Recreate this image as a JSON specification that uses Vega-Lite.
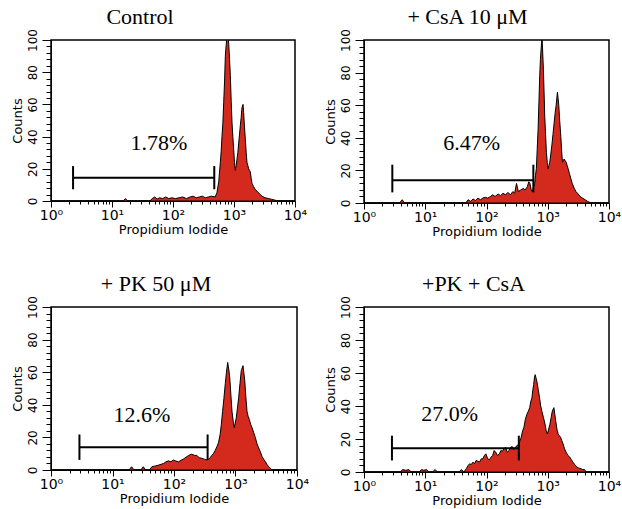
{
  "$schema": "https://vega.github.io/schema/vega-lite/v6.json",
  "padding": {"left": 10, "top": 4, "right": 1, "bottom": 2},
  "background": "white",
  "datasets": {
    "control": [
      {"pi":1,"count":0},{"pi":15.1,"count":0},{"pi":16.6,"count":1.5},{"pi":18.2,"count":0},{"pi":41.7,"count":0},{"pi":45.7,"count":1.5},{"pi":50.1,"count":2.5},{"pi":55,"count":1.2},{"pi":60.3,"count":2},{"pi":67.6,"count":1.5},{"pi":75.9,"count":2.5},{"pi":85.1,"count":1.5},{"pi":95.5,"count":2},{"pi":109.6,"count":1.5},{"pi":125.9,"count":2},{"pi":144.5,"count":2.5},{"pi":166,"count":1.5},{"pi":190.5,"count":2.5},{"pi":213.8,"count":3},{"pi":239.9,"count":2},{"pi":269.2,"count":2.5},{"pi":302,"count":3},{"pi":338.8,"count":2},{"pi":380.2,"count":2.5},{"pi":426.6,"count":3},{"pi":489.8,"count":2.5},{"pi":524.8,"count":5},{"pi":562.3,"count":12},{"pi":597,"count":24},{"pi":616.6,"count":31},{"pi":635.3,"count":40},{"pi":656.1,"count":48},{"pi":677.6,"count":61},{"pi":699.8,"count":74},{"pi":721.1,"count":90},{"pi":744.7,"count":97},{"pi":767.4,"count":102},{"pi":794.3,"count":102},{"pi":818.5,"count":98},{"pi":845.3,"count":88},{"pi":871,"count":78},{"pi":899.5,"count":62},{"pi":926.8,"count":49},{"pi":957.2,"count":40},{"pi":988.6,"count":32},{"pi":1018.6,"count":24},{"pi":1051.9,"count":19},{"pi":1083.9,"count":22},{"pi":1119.4,"count":26},{"pi":1156,"count":30},{"pi":1193.9,"count":36},{"pi":1230,"count":41},{"pi":1270.6,"count":47},{"pi":1312.2,"count":52},{"pi":1352.1,"count":58},{"pi":1406,"count":60},{"pi":1438.5,"count":55},{"pi":1485.9,"count":46},{"pi":1534.6,"count":38},{"pi":1584.9,"count":30},{"pi":1633.1,"count":24},{"pi":1686.5,"count":22},{"pi":1741.8,"count":20},{"pi":1798.9,"count":19},{"pi":1853.5,"count":18},{"pi":1914.3,"count":14},{"pi":1972.4,"count":11},{"pi":2089.3,"count":9},{"pi":2238.7,"count":7},{"pi":2398.8,"count":6},{"pi":2535.1,"count":5},{"pi":2691.5,"count":4},{"pi":2877.5,"count":3},{"pi":3235.9,"count":2},{"pi":3706.8,"count":1.5},{"pi":4168.7,"count":1},{"pi":4753.4,"count":0.5},{"pi":5011.9,"count":0},{"pi":10000,"count":0}
    ],
    "csa": [
      {"pi":1,"count":0},{"pi":3.8,"count":0},{"pi":4.2,"count":2},{"pi":4.6,"count":0},{"pi":45.7,"count":0},{"pi":50.1,"count":2},{"pi":55,"count":1},{"pi":60.3,"count":2.5},{"pi":66.1,"count":1.5},{"pi":72.4,"count":3},{"pi":79.4,"count":2},{"pi":87.1,"count":3},{"pi":95.5,"count":3.5},{"pi":104.7,"count":3},{"pi":116.4,"count":4},{"pi":125.9,"count":5},{"pi":138,"count":4},{"pi":154.9,"count":5.5},{"pi":169.8,"count":4.5},{"pi":186.2,"count":6},{"pi":204.2,"count":5},{"pi":223.9,"count":6.5},{"pi":245.5,"count":5},{"pi":269.2,"count":7},{"pi":288.4,"count":6},{"pi":309,"count":12},{"pi":331.1,"count":7},{"pi":363.1,"count":8},{"pi":398.1,"count":9},{"pi":426.6,"count":8},{"pi":464.5,"count":10},{"pi":489.8,"count":13},{"pi":512.9,"count":12},{"pi":537,"count":8},{"pi":561,"count":7},{"pi":588.8,"count":10},{"pi":612.4,"count":12},{"pi":631,"count":17},{"pi":651.6,"count":21},{"pi":673,"count":33},{"pi":695,"count":45},{"pi":717.8,"count":62},{"pi":739.6,"count":78},{"pi":758.6,"count":88},{"pi":778,"count":94},{"pi":807.2,"count":102},{"pi":827.9,"count":92},{"pi":849.2,"count":82},{"pi":871,"count":68},{"pi":893.3,"count":53},{"pi":922.6,"count":42},{"pi":950.6,"count":31},{"pi":981.7,"count":25},{"pi":1011.6,"count":21},{"pi":1044.6,"count":23},{"pi":1078.9,"count":25},{"pi":1122,"count":30},{"pi":1164.1,"count":35},{"pi":1216.2,"count":42},{"pi":1270.6,"count":49},{"pi":1318.3,"count":55},{"pi":1370.9,"count":60},{"pi":1438.5,"count":68},{"pi":1479.1,"count":64},{"pi":1513.6,"count":60},{"pi":1570.4,"count":50},{"pi":1633.1,"count":41},{"pi":1686.5,"count":32},{"pi":1737.8,"count":25},{"pi":1794.7,"count":26},{"pi":1853.5,"count":27},{"pi":1923.1,"count":26},{"pi":1999.9,"count":25},{"pi":2074.9,"count":23},{"pi":2152.8,"count":21},{"pi":2264.6,"count":18},{"pi":2382.3,"count":15},{"pi":2511.9,"count":12},{"pi":2703.9,"count":9},{"pi":2884,"count":7},{"pi":3062.1,"count":6},{"pi":3388.4,"count":4},{"pi":3698.3,"count":3},{"pi":4073.8,"count":2},{"pi":4466.8,"count":1},{"pi":5069.9,"count":0},{"pi":10000,"count":0}
    ],
    "pk": [
      {"pi":1,"count":0},{"pi":18.6,"count":0},{"pi":20.4,"count":2},{"pi":22.4,"count":0},{"pi":28.8,"count":0},{"pi":31.6,"count":2},{"pi":34.7,"count":0},{"pi":39.8,"count":0},{"pi":43.7,"count":2},{"pi":50.1,"count":2.5},{"pi":56.2,"count":3},{"pi":61.7,"count":3.5},{"pi":67.6,"count":4},{"pi":74.1,"count":5},{"pi":81.3,"count":5.6},{"pi":89.1,"count":5},{"pi":97.7,"count":6.2},{"pi":107.2,"count":5.5},{"pi":118.9,"count":5},{"pi":130.3,"count":6},{"pi":143.2,"count":6.8},{"pi":158.5,"count":8},{"pi":173,"count":8.9},{"pi":184.1,"count":9.5},{"pi":195,"count":9.7},{"pi":213.8,"count":9},{"pi":234.4,"count":8.9},{"pi":257,"count":7.5},{"pi":284.4,"count":7.2},{"pi":316.2,"count":6.5},{"pi":343.6,"count":6.2},{"pi":363.1,"count":6.5},{"pi":389,"count":7.7},{"pi":412.1,"count":9},{"pi":441.6,"count":10.3},{"pi":467.7,"count":12},{"pi":501.2,"count":14.5},{"pi":530.9,"count":17},{"pi":562.3,"count":21.8},{"pi":588.8,"count":28},{"pi":616.6,"count":36},{"pi":648.6,"count":44},{"pi":682.3,"count":53},{"pi":712.8,"count":60},{"pi":746.5,"count":66},{"pi":776.2,"count":62},{"pi":805.4,"count":57},{"pi":841.4,"count":46},{"pi":877,"count":36},{"pi":916.2,"count":30},{"pi":955,"count":26},{"pi":1030.4,"count":32},{"pi":1076.4,"count":38},{"pi":1127.2,"count":44.6},{"pi":1183,"count":53},{"pi":1241.6,"count":61},{"pi":1324.3,"count":64},{"pi":1412.5,"count":55},{"pi":1472.3,"count":45},{"pi":1538.2,"count":36},{"pi":1603.2,"count":33},{"pi":1678.8,"count":31},{"pi":1766,"count":28},{"pi":1857.8,"count":26},{"pi":1972.4,"count":23},{"pi":2098.9,"count":20},{"pi":2238.7,"count":16},{"pi":2387.8,"count":13.5},{"pi":2541,"count":11},{"pi":2703.9,"count":8.3},{"pi":2884,"count":6.5},{"pi":3054.9,"count":5.2},{"pi":3235.9,"count":3.5},{"pi":3467.4,"count":2},{"pi":3715.4,"count":1},{"pi":3935.5,"count":0},{"pi":10000,"count":0}
    ],
    "pkcsa": [
      {"pi":1,"count":0},{"pi":3.9,"count":0},{"pi":4.3,"count":1.5},{"pi":4.8,"count":1},{"pi":5.4,"count":1.5},{"pi":5.9,"count":0},{"pi":7.9,"count":0},{"pi":8.7,"count":1.5},{"pi":9.5,"count":1},{"pi":10.5,"count":1.5},{"pi":11.5,"count":0},{"pi":13.2,"count":0},{"pi":14.5,"count":1.5},{"pi":15.8,"count":0},{"pi":35.5,"count":0},{"pi":38.9,"count":1.5},{"pi":42.7,"count":0},{"pi":46.8,"count":2},{"pi":50.1,"count":4},{"pi":53.1,"count":5},{"pi":56.2,"count":4.5},{"pi":60.3,"count":6},{"pi":63.8,"count":5},{"pi":67.6,"count":7},{"pi":72.4,"count":6.5},{"pi":76.9,"count":6},{"pi":82.2,"count":8},{"pi":87.1,"count":8},{"pi":92.3,"count":10},{"pi":97.7,"count":11},{"pi":104.7,"count":8},{"pi":111.4,"count":7.4},{"pi":118.9,"count":9},{"pi":125.9,"count":10},{"pi":133.4,"count":13},{"pi":141.3,"count":12},{"pi":151.4,"count":10},{"pi":162.2,"count":11},{"pi":171.8,"count":13},{"pi":182,"count":12.6},{"pi":192.8,"count":14},{"pi":204.2,"count":15},{"pi":218.8,"count":12},{"pi":234.4,"count":13},{"pi":248.3,"count":15},{"pi":263,"count":15.4},{"pi":278.6,"count":13.5},{"pi":295.1,"count":15},{"pi":316.2,"count":16},{"pi":338.8,"count":17},{"pi":354.8,"count":19},{"pi":368.1,"count":21},{"pi":389,"count":25},{"pi":407.4,"count":27},{"pi":431.5,"count":32},{"pi":457.1,"count":35},{"pi":484.2,"count":37},{"pi":507,"count":39},{"pi":530.9,"count":43},{"pi":552.1,"count":45},{"pi":571.5,"count":50},{"pi":588.8,"count":53},{"pi":605.3,"count":57},{"pi":623.7,"count":59},{"pi":642.7,"count":57},{"pi":663.7,"count":55},{"pi":699.8,"count":50},{"pi":734.5,"count":45},{"pi":767.4,"count":40},{"pi":799.8,"count":37},{"pi":851.1,"count":33},{"pi":903.6,"count":29},{"pi":944,"count":25},{"pi":986.3,"count":23},{"pi":1035.1,"count":26},{"pi":1086.4,"count":29},{"pi":1135.1,"count":33},{"pi":1188.5,"count":37},{"pi":1258.9,"count":39},{"pi":1303.2,"count":35},{"pi":1349,"count":31},{"pi":1412.5,"count":26},{"pi":1479.1,"count":23},{"pi":1548.8,"count":22},{"pi":1621.8,"count":21},{"pi":1698.2,"count":19},{"pi":1778.3,"count":17},{"pi":1883.6,"count":14},{"pi":1995.3,"count":12},{"pi":2138,"count":10},{"pi":2290.9,"count":9},{"pi":2426.6,"count":7.5},{"pi":2570.4,"count":6},{"pi":2754.2,"count":4.5},{"pi":2917.4,"count":3.4},{"pi":3162.3,"count":2.5},{"pi":3507.5,"count":2},{"pi":3715.4,"count":1.5},{"pi":3981.1,"count":1.5},{"pi":4217,"count":0},{"pi":10000,"count":0}
    ],
    "gates": [
      {"panel":"control","lo":2.3,"hi":475,"level":14.5,"tickLo":7.3,"tickHi":21.7,"label":"1.78%","lx":59,"ly":36},
      {"panel":"csa","lo":2.9,"hi":582,"level":14,"tickLo":6.5,"tickHi":23.5,"label":"6.47%","lx":57,"ly":37},
      {"panel":"pk","lo":2.9,"hi":352,"level":14,"tickLo":6.2,"tickHi":21.8,"label":"12.6%","lx":30,"ly":34},
      {"panel":"pkcsa","lo":2.86,"hi":337,"level":14.4,"tickLo":7,"tickHi":22,"label":"27.0%","lx":25,"ly":35}
    ]
  },
  "config": {
    "view": {"stroke": "black", "strokeWidth": 1.5},
    "title": {"font": "Liberation Serif", "fontSize": 22, "fontWeight": "normal", "color": "black", "anchor": "middle", "frame": "group", "baseline": "alphabetic"},
    "axis": {"grid": false, "domainColor": "black", "tickColor": "black", "labelColor": "black", "titleColor": "black", "labelFont": "DejaVu Sans", "titleFont": "DejaVu Sans", "titleFontWeight": "normal", "titleFontSize": 13, "labelFlush": false, "labelBound": false},
    "axisX": {"title": "Propidium Iodide", "titlePadding": 1, "labelFontSize": 14, "labelPadding": 1},
    "axisY": {"titlePadding": 2, "labelFontSize": 12, "labelAngle": -90, "labelPadding": 3, "labelAlign": "center", "labelBaseline": "bottom"}
  },
  "columns": 2,
  "spacing": {"column": 13, "row": 32},
  "concat": [
    {
      "width": 244, "height": 161,
      "title": {"text": "Control", "dx": -33, "offset": 0},
      "resolve": {"axis": {"y": "independent"}},
      "layer": [
        {"data": {"name": "control"},
         "mark": {"type": "area", "fill": "#d42a1e", "stroke": "black", "strokeWidth": 1, "clip": true},
         "encoding": {
           "x": {"field": "pi", "type": "quantitative", "scale": {"type": "log", "domain": [1, 10000]},
             "axis": {"title": "Propidium Iodide",
               "values": [1,2,3,4,5,6,7,8,9,10,20,30,40,50,60,70,80,90,100,200,300,400,500,600,700,800,900,1000,2000,3000,4000,5000,6000,7000,8000,9000,10000],
               "labelExpr": "datum.value==1?'10⁰':datum.value==10?'10¹':datum.value==100?'10²':datum.value==1000?'10³':datum.value==10000?'10⁴':''",
               "tickSize": {"condition": {"test": "indexof([1,10,100,1000,10000], datum.value) >= 0", "value": 6}, "value": 3}}},
           "y": {"field": "count", "type": "quantitative", "scale": {"domain": [0, 100]},
             "axis": {"title": "Counts", "values": [0,20,40,60,80,100], "tickSize": 9}}
         }},
        {"data": {"name": "gates"}, "transform": [{"filter": "datum.panel == 'control'"}],
         "mark": {"type": "rule", "color": "black", "strokeWidth": 2},
         "encoding": {"x": {"field": "lo", "type": "quantitative"}, "x2": {"field": "hi"}, "y": {"field": "level", "type": "quantitative", "axis": null}}},
        {"data": {"name": "gates"}, "transform": [{"filter": "datum.panel == 'control'"}, {"fold": ["lo", "hi"], "as": ["end", "pos"]}],
         "mark": {"type": "rule", "color": "black", "strokeWidth": 2},
         "encoding": {"x": {"field": "pos", "type": "quantitative"}, "y": {"field": "tickLo", "type": "quantitative", "axis": null}, "y2": {"field": "tickHi"}}},
        {"data": {"name": "gates"}, "transform": [{"filter": "datum.panel == 'control'"}],
         "mark": {"type": "text", "font": "Liberation Serif", "fontSize": 22, "color": "black", "align": "center", "baseline": "middle"},
         "encoding": {"x": {"field": "lx", "type": "quantitative"}, "y": {"field": "ly", "type": "quantitative",
           "axis": {"orient": "left", "title": null, "labels": false, "domain": false, "tickSize": 5, "values": [4,8,12,16,24,28,32,36,44,48,52,56,64,68,72,76,84,88,92,96]}}, "text": {"field": "label"}}}
      ]
    },
    {
      "width": 245, "height": 163,
      "title": {"text": "+ CsA 10 μM", "dx": -19, "offset": 0},
      "resolve": {"axis": {"y": "independent"}},
      "layer": [
        {"data": {"name": "csa"},
         "mark": {"type": "area", "fill": "#d42a1e", "stroke": "black", "strokeWidth": 1, "clip": true},
         "encoding": {
           "x": {"field": "pi", "type": "quantitative", "scale": {"type": "log", "domain": [1, 10000]},
             "axis": {"title": "Propidium Iodide",
               "values": [1,2,3,4,5,6,7,8,9,10,20,30,40,50,60,70,80,90,100,200,300,400,500,600,700,800,900,1000,2000,3000,4000,5000,6000,7000,8000,9000,10000],
               "labelExpr": "datum.value==1?'10⁰':datum.value==10?'10¹':datum.value==100?'10²':datum.value==1000?'10³':datum.value==10000?'10⁴':''",
               "tickSize": {"condition": {"test": "indexof([1,10,100,1000,10000], datum.value) >= 0", "value": 6}, "value": 3}}},
           "y": {"field": "count", "type": "quantitative", "scale": {"domain": [0, 100]},
             "axis": {"title": "Counts", "values": [0,20,40,60,80,100], "tickSize": 9}}
         }},
        {"data": {"name": "gates"}, "transform": [{"filter": "datum.panel == 'csa'"}],
         "mark": {"type": "rule", "color": "black", "strokeWidth": 2},
         "encoding": {"x": {"field": "lo", "type": "quantitative"}, "x2": {"field": "hi"}, "y": {"field": "level", "type": "quantitative", "axis": null}}},
        {"data": {"name": "gates"}, "transform": [{"filter": "datum.panel == 'csa'"}, {"fold": ["lo", "hi"], "as": ["end", "pos"]}],
         "mark": {"type": "rule", "color": "black", "strokeWidth": 2},
         "encoding": {"x": {"field": "pos", "type": "quantitative"}, "y": {"field": "tickLo", "type": "quantitative", "axis": null}, "y2": {"field": "tickHi"}}},
        {"data": {"name": "gates"}, "transform": [{"filter": "datum.panel == 'csa'"}],
         "mark": {"type": "text", "font": "Liberation Serif", "fontSize": 22, "color": "black", "align": "center", "baseline": "middle"},
         "encoding": {"x": {"field": "lx", "type": "quantitative"}, "y": {"field": "ly", "type": "quantitative",
           "axis": {"orient": "left", "title": null, "labels": false, "domain": false, "tickSize": 5, "values": [4,8,12,16,24,28,32,36,44,48,52,56,64,68,72,76,84,88,92,96]}}, "text": {"field": "label"}}}
      ]
    },
    {
      "width": 246, "height": 163,
      "title": {"text": "+ PK 50 μM", "dx": -18, "offset": 0},
      "resolve": {"axis": {"y": "independent"}},
      "layer": [
        {"data": {"name": "pk"},
         "mark": {"type": "area", "fill": "#d42a1e", "stroke": "black", "strokeWidth": 1, "clip": true},
         "encoding": {
           "x": {"field": "pi", "type": "quantitative", "scale": {"type": "log", "domain": [1, 10000]},
             "axis": {"title": "Propidium Iodide",
               "values": [1,2,3,4,5,6,7,8,9,10,20,30,40,50,60,70,80,90,100,200,300,400,500,600,700,800,900,1000,2000,3000,4000,5000,6000,7000,8000,9000,10000],
               "labelExpr": "datum.value==1?'10⁰':datum.value==10?'10¹':datum.value==100?'10²':datum.value==1000?'10³':datum.value==10000?'10⁴':''",
               "tickSize": {"condition": {"test": "indexof([1,10,100,1000,10000], datum.value) >= 0", "value": 6}, "value": 3}}},
           "y": {"field": "count", "type": "quantitative", "scale": {"domain": [0, 100]},
             "axis": {"title": "Counts", "values": [0,20,40,60,80,100], "tickSize": 9}}
         }},
        {"data": {"name": "gates"}, "transform": [{"filter": "datum.panel == 'pk'"}],
         "mark": {"type": "rule", "color": "black", "strokeWidth": 2},
         "encoding": {"x": {"field": "lo", "type": "quantitative"}, "x2": {"field": "hi"}, "y": {"field": "level", "type": "quantitative", "axis": null}}},
        {"data": {"name": "gates"}, "transform": [{"filter": "datum.panel == 'pk'"}, {"fold": ["lo", "hi"], "as": ["end", "pos"]}],
         "mark": {"type": "rule", "color": "black", "strokeWidth": 2},
         "encoding": {"x": {"field": "pos", "type": "quantitative"}, "y": {"field": "tickLo", "type": "quantitative", "axis": null}, "y2": {"field": "tickHi"}}},
        {"data": {"name": "gates"}, "transform": [{"filter": "datum.panel == 'pk'"}],
         "mark": {"type": "text", "font": "Liberation Serif", "fontSize": 22, "color": "black", "align": "center", "baseline": "middle"},
         "encoding": {"x": {"field": "lx", "type": "quantitative"}, "y": {"field": "ly", "type": "quantitative",
           "axis": {"orient": "left", "title": null, "labels": false, "domain": false, "tickSize": 5, "values": [4,8,12,16,24,28,32,36,44,48,52,56,64,68,72,76,84,88,92,96]}}, "text": {"field": "label"}}}
      ]
    },
    {
      "width": 245, "height": 165,
      "title": {"text": "+PK + CsA", "dx": -13, "offset": 0},
      "resolve": {"axis": {"y": "independent"}},
      "layer": [
        {"data": {"name": "pkcsa"},
         "mark": {"type": "area", "fill": "#d42a1e", "stroke": "black", "strokeWidth": 1, "clip": true},
         "encoding": {
           "x": {"field": "pi", "type": "quantitative", "scale": {"type": "log", "domain": [1, 10000]},
             "axis": {"title": "Propidium Iodide",
               "values": [1,2,3,4,5,6,7,8,9,10,20,30,40,50,60,70,80,90,100,200,300,400,500,600,700,800,900,1000,2000,3000,4000,5000,6000,7000,8000,9000,10000],
               "labelExpr": "datum.value==1?'10⁰':datum.value==10?'10¹':datum.value==100?'10²':datum.value==1000?'10³':datum.value==10000?'10⁴':''",
               "tickSize": {"condition": {"test": "indexof([1,10,100,1000,10000], datum.value) >= 0", "value": 6}, "value": 3}}},
           "y": {"field": "count", "type": "quantitative", "scale": {"domain": [0, 100]},
             "axis": {"title": "Counts", "values": [0,20,40,60,80,100], "tickSize": 9}}
         }},
        {"data": {"name": "gates"}, "transform": [{"filter": "datum.panel == 'pkcsa'"}],
         "mark": {"type": "rule", "color": "black", "strokeWidth": 2},
         "encoding": {"x": {"field": "lo", "type": "quantitative"}, "x2": {"field": "hi"}, "y": {"field": "level", "type": "quantitative", "axis": null}}},
        {"data": {"name": "gates"}, "transform": [{"filter": "datum.panel == 'pkcsa'"}, {"fold": ["lo", "hi"], "as": ["end", "pos"]}],
         "mark": {"type": "rule", "color": "black", "strokeWidth": 2},
         "encoding": {"x": {"field": "pos", "type": "quantitative"}, "y": {"field": "tickLo", "type": "quantitative", "axis": null}, "y2": {"field": "tickHi"}}},
        {"data": {"name": "gates"}, "transform": [{"filter": "datum.panel == 'pkcsa'"}],
         "mark": {"type": "text", "font": "Liberation Serif", "fontSize": 22, "color": "black", "align": "center", "baseline": "middle"},
         "encoding": {"x": {"field": "lx", "type": "quantitative"}, "y": {"field": "ly", "type": "quantitative",
           "axis": {"orient": "left", "title": null, "labels": false, "domain": false, "tickSize": 5, "values": [4,8,12,16,24,28,32,36,44,48,52,56,64,68,72,76,84,88,92,96]}}, "text": {"field": "label"}}}
      ]
    }
  ]
}
